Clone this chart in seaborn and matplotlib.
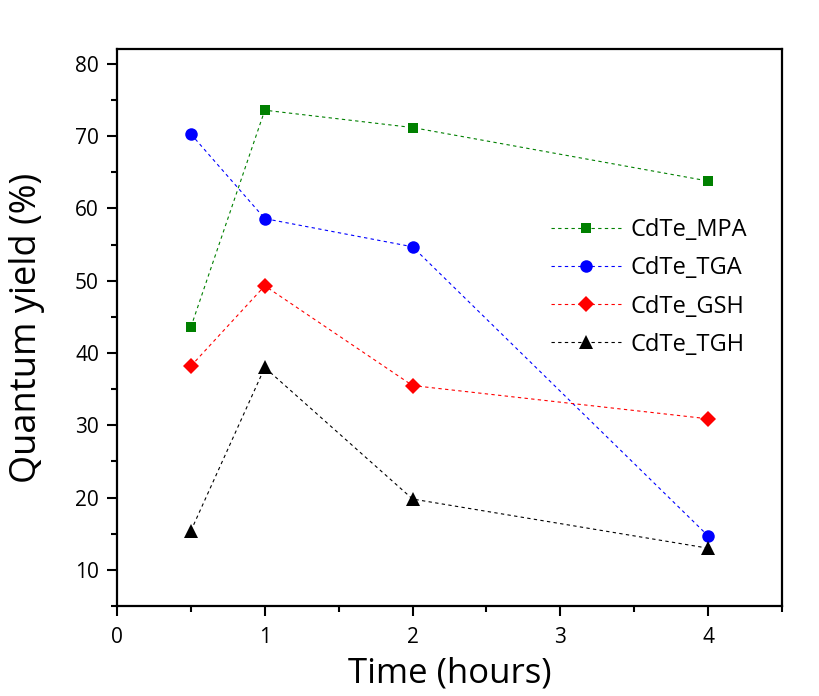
import matplotlib
matplotlib.use("Agg")
import matplotlib.pyplot as plt
import seaborn as sns
import pandas as pd
from matplotlib.ticker import MultipleLocator

time_h = [0.5, 1, 2, 4]
mpa = [43.6, 73.6, 71.2, 63.8]
tga = [70.3, 58.6, 54.7, 14.7]
gsh = [38.2, 49.3, 35.5, 30.9]
tgh = [15.4, 38.0, 19.8, 13.0]
series_names = ["CdTe_MPA", "CdTe_TGA", "CdTe_GSH", "CdTe_TGH"]

sns.set_theme(style="ticks")
plt.rcParams['font.family'] = ['Open Sans', 'DejaVu Sans']
plt.rcParams['text.color'] = 'black'
plt.rcParams['axes.labelcolor'] = 'black'
plt.rcParams['xtick.color'] = 'black'
plt.rcParams['ytick.color'] = 'black'

fig = plt.figure(figsize=(8.2, 6.96), dpi=100)
ax = fig.add_axes([0.1427, 0.1293, 0.8110, 0.7996])

styles = [
    ("#008000", "s", 7),
    ("#0000ff", "o", 9),
    ("#ff0000", "D", 8),
    ("#000000", "^", 10),
]
for name, vals, (c, m, ms) in zip(series_names, [mpa, tga, gsh, tgh], styles):
    df = pd.DataFrame({"t": time_h, "y": vals})
    sns.lineplot(data=df, x="t", y="y", ax=ax, color=c, marker=m, markersize=ms,
                 markeredgewidth=0, linewidth=0.8, linestyle=(0, (3, 3)), label=name)

ax.set_xlim(0, 4.5)
ax.set_ylim(5, 82)
ax.xaxis.set_major_locator(MultipleLocator(1))
ax.xaxis.set_minor_locator(MultipleLocator(0.5))
ax.yaxis.set_major_locator(MultipleLocator(10))
ax.yaxis.set_minor_locator(MultipleLocator(5))
ax.tick_params(axis='both', which='major', direction='out', length=7, width=1.5,
               labelsize=15, colors='black')
ax.tick_params(axis='x', which='major', pad=8)
ax.tick_params(axis='y', which='major', pad=6)
ax.tick_params(axis='both', which='minor', direction='out', length=4, width=1.5)
for sp in ax.spines.values():
    sp.set_linewidth(1.6)
    sp.set_color('black')

ax.set_xlabel("Time (hours)", fontsize=25, labelpad=6)
ax.set_ylabel("Quantum yield (%)", fontsize=26, labelpad=22)

leg = ax.legend(loc='upper left', bbox_to_anchor=(0.62, 0.735), frameon=False,
                fontsize=17, handlelength=3, labelspacing=0.6, handletextpad=0.4)

fig.savefig("out.png", dpi=100)
